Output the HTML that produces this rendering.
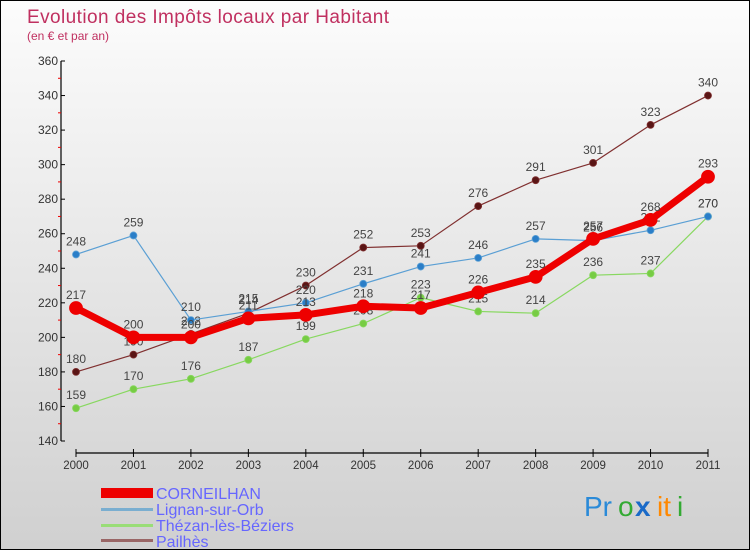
<!DOCTYPE html>
<html><head><meta charset="utf-8"><style>
body{margin:0;}
#wrap{position:relative;width:748px;height:548px;border:1px solid #000;background:linear-gradient(#fcfcfc,#d0d0d0);font-family:"Liberation Sans",sans-serif;overflow:hidden}
</style></head><body>
<div id="wrap">
<svg id="chart" width="748" height="548" style="position:absolute;left:0;top:0">
<text x="26" y="22" font-size="19" fill="#c03060" textLength="362">Evolution des Impôts locaux par Habitant</text>
<text x="26" y="39" font-size="12" fill="#c03060">(en € et par an)</text>
<g id="axes"></g>
<g id="series"></g>
<g>
<rect x="100" y="487" width="52" height="10" fill="#e00"/>
<text x="155" y="498" font-size="16" fill="#6666ff">CORNEILHAN</text>
<rect x="100" y="507" width="52" height="3" fill="#7aaed0"/>
<text x="155" y="514" font-size="16" fill="#6666ff">Lignan-sur-Orb</text>
<rect x="100" y="523" width="52" height="3" fill="#99dd77"/>
<text x="155" y="530" font-size="16" fill="#6666ff">Thézan-lès-Béziers</text>
<rect x="100" y="538" width="52" height="3" fill="#996666"/>
<text x="155" y="546" font-size="16" fill="#6666ff">Pailhès</text>
</g>
<g font-size="28">
<text x="583" y="515" fill="#2a8ad8">Pr</text><text x="617" y="515" fill="#33aa33">o</text><text x="634" y="515" fill="#1a6ac8" font-weight="bold">x</text><text x="656" y="515" fill="#ff8800">it</text><text x="676" y="515" fill="#33aa33">i</text>
</g>
</svg>
</div>
<script>
const years=[2000,2001,2002,2003,2004,2005,2006,2007,2008,2009,2010,2011];
const corneilhan=[217,200,200,211,213,218,217,226,235,257,268,293];
const lignan=[248,259,210,215,220,231,241,246,257,256,262,270];
const thezan=[159,170,176,187,199,208,223,215,214,236,237,270];
const pailhes=[180,190,202,214,230,252,253,276,291,301,323,340];
const yTicks=[140,160,180,200,220,240,260,280,300,320,340,360];
const NS="http://www.w3.org/2000/svg";
function X(i){return 75+i*(707-75)/(years.length-1);}
function Y(v){return 440-(v-140)*(380/220);}
function mk(t,a,p){const e=document.createElementNS(NS,t);for(const k in a)e.setAttribute(k,a[k]);p.appendChild(e);return e;}
const ax=document.getElementById('axes');
let yl=mk('line',{x1:60,y1:60,x2:60,y2:440,stroke:'#000','stroke-width':1.2},ax);


yTicks.forEach((v,i)=>{
 mk('line',{x1:60,x2:64,y1:Y(v),y2:Y(v),stroke:'#000'},ax);
 if(i<yTicks.length-1) mk('line',{x1:57,x2:60,y1:Y(v+10),y2:Y(v+10),stroke:'#e00'},ax);
 const t=mk('text',{x:57,y:Y(v)+4,'font-size':12,fill:'#333','text-anchor':'end'},ax);
 t.textContent=v;
 
 
});
let xl=mk('line',{x1:75,y1:452,x2:707,y2:452,stroke:'#000','stroke-width':1.2},ax);


years.forEach((y,i)=>{
 mk('line',{x1:X(i),x2:X(i),y1:448,y2:456,stroke:'#000'},ax);
 const t=mk('text',{x:X(i),y:468,'font-size':11.5,fill:'#333','text-anchor':'middle'},ax);
 t.textContent=y;
 
 
});
const sg=document.getElementById('series');
function draw(data,name,color,lw,r,dot){
 const g=mk('g',{},sg);
 
 
 mk('polyline',{points:data.map((v,i)=>X(i)+','+Y(v)).join(' '),fill:'none',stroke:color,'stroke-width':lw,'stroke-linejoin':'round'},g);
 data.forEach((v,i)=>{
  const c=mk('circle',{cx:X(i),cy:Y(v),r:r,fill:dot,stroke:color,'stroke-width':0.8},g);
  
  
  const t=mk('text',{x:X(i),y:Y(v)-9,'font-size':12,fill:'#444','text-anchor':'middle'},g);
  t.textContent=v;
  
  
 });
}
draw(pailhes,'pailhes','#803030',1.2,3.5,'#5a1515');
draw(thezan,'thezan','#88d860',1.2,3.5,'#77cc44');
draw(lignan,'lignan','#5a9fd4',1.2,3.5,'#2a7ec8');
draw(corneilhan,'corneilhan','#ee0000',7,6.5,'#ee0000');
</script>
</body></html>
